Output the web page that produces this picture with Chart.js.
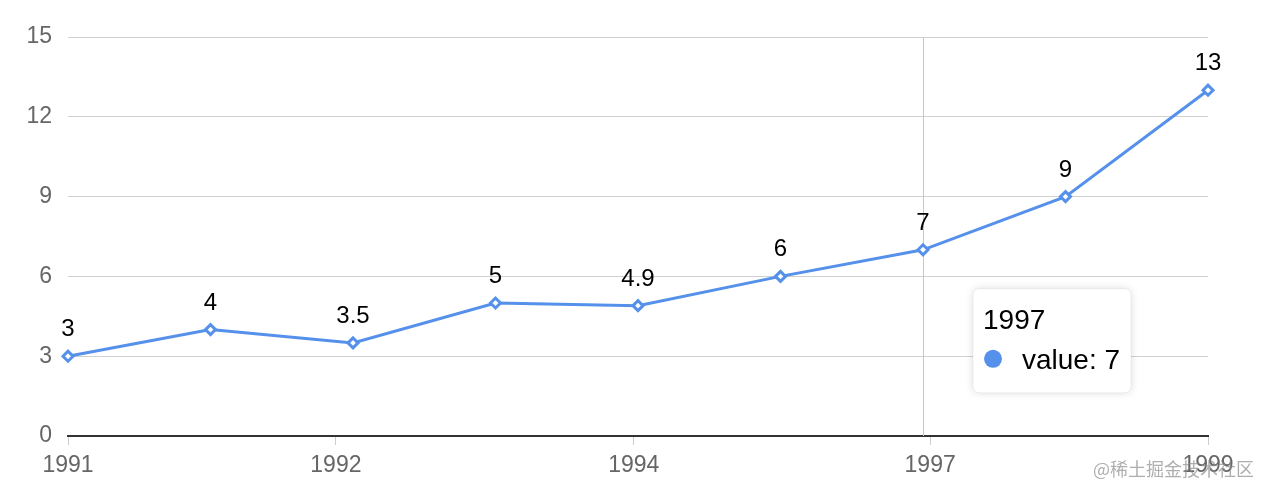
<!DOCTYPE html>
<html>
<head>
<meta charset="utf-8">
<script src="https://cdn.jsdelivr.net/npm/chart.js@4/dist/chart.umd.min.js"></script>
<style>
  html, body { margin: 0; padding: 0; background: #fff; }
  #wrap { position: relative; width: 1270px; height: 496px; }
  #mark {
    position: absolute; left: 1093px; top: 458px;
    font: 18px/20px "Noto Sans CJK SC", sans-serif;
    color: rgba(140, 140, 140, 0.7);
    white-space: nowrap;
  }
</style>
</head>
<body>
<div id="wrap">
  <canvas id="chart" width="1270" height="496"></canvas>
  <div id="mark">@稀土掘金技术社区</div>
</div>
<script>
// data
const years = ['1991', '1992', '1993', '1994', '1995', '1996', '1997', '1998', '1999'];
const values = [3, 4, 3.5, 5, 4.9, 6, 7, 9, 13];

// x axis labels sit at odd spots in the original, kept in axis units
const xTickLabels = ['1991', '1992', '1994', '1997', '1999'];
const xTickValues = [0, 1.88, 3.97, 6.05, 8];

const yMax = 15;
const yStep = 3;

// hovered point shown in the tooltip
const activeIndex = 6;

const lineColor = '#5590EA';
const font = '"Liberation Sans", Arial, sans-serif';

const crosshair = {
    id: 'crosshair',
    beforeDatasetsDraw(chart) {
        const p = chart.getDatasetMeta(0).data[activeIndex];
        const { top, bottom } = chart.chartArea;
        const ctx = chart.ctx;
        ctx.save();
        ctx.strokeStyle = '#c8c8c8';
        ctx.lineWidth = 1;
        ctx.beginPath();
        ctx.moveTo(Math.round(p.x) + 0.5, top);
        ctx.lineTo(Math.round(p.x) + 0.5, bottom);
        ctx.stroke();
        ctx.restore();
    }
};

const pointLabels = {
    id: 'pointLabels',
    afterDatasetsDraw(chart) {
        const ctx = chart.ctx;
        ctx.save();
        ctx.font = '24px ' + font;
        ctx.fillStyle = '#000';
        ctx.textAlign = 'center';
        ctx.textBaseline = 'alphabetic';
        chart.getDatasetMeta(0).data.forEach((p, i) => {
            ctx.fillText(String(values[i]), p.x, p.y - 20);
        });
        ctx.restore();
    }
};

const staticTooltip = {
    id: 'staticTooltip',
    afterDraw(chart) {
        const p = chart.getDatasetMeta(0).data[activeIndex];
        const ctx = chart.ctx;
        const x = p.x + 50, y = p.y + 39, w = 158, h = 104;
        ctx.save();
        ctx.shadowColor = 'rgba(0, 0, 0, 0.14)';
        ctx.shadowBlur = 8;
        ctx.fillStyle = '#fff';
        ctx.beginPath();
        ctx.roundRect(x, y, w, h, 6);
        ctx.fill();
        ctx.shadowColor = 'transparent';
        ctx.strokeStyle = 'rgba(0,0,0,0.05)';
        ctx.lineWidth = 1;
        ctx.stroke();

        ctx.fillStyle = '#000';
        ctx.font = '28px ' + font;
        ctx.textAlign = 'left';
        ctx.textBaseline = 'alphabetic';
        ctx.fillText(years[activeIndex], x + 10, y + 40);

        ctx.fillStyle = lineColor;
        ctx.beginPath();
        ctx.arc(x + 20, y + 70, 9, 0, Math.PI * 2);
        ctx.fill();

        ctx.fillStyle = '#000';
        ctx.fillText('value: ' + values[activeIndex], x + 49, y + 80);
        ctx.restore();
    }
};

new Chart(document.getElementById('chart'), {
    type: 'line',
    data: {
        datasets: [{
            data: values.map((v, i) => ({ x: i, y: v })),
            borderColor: lineColor,
            borderWidth: 3,
            backgroundColor: '#fff',
            pointStyle: 'rectRot',
            pointRadius: 5,
            pointBorderWidth: 3,
            pointBorderColor: lineColor,
            pointBackgroundColor: '#fff',
            tension: 0,
            fill: false,
            clip: false
        }]
    },
    options: {
        responsive: false,
        animation: false,
        layout: { padding: { top: 37, right: 62, left: 0, bottom: 0 } },
        plugins: {
            legend: { display: false },
            tooltip: { enabled: false }
        },
        scales: {
            x: {
                type: 'linear',
                min: 0,
                max: years.length - 1,
                afterBuildTicks: axis => {
                    axis.ticks = xTickValues.map(v => ({ value: v }));
                },
                afterFit: axis => { axis.height = 60; },
                grid: {
                    drawOnChartArea: false,
                    drawTicks: true,
                    tickLength: 9,
                    color: '#cccccc',
                    lineWidth: 1
                },
                border: { display: true, color: '#333333', width: 2 },
                ticks: {
                    autoSkip: false,
                    maxRotation: 0,
                    padding: 7,
                    color: '#666666',
                    font: { family: font, size: 23 },
                    callback: (v, i) => xTickLabels[i]
                }
            },
            y: {
                min: 0,
                max: yMax,
                afterFit: axis => { axis.width = 68; },
                grid: { color: '#d0d0d0', lineWidth: 1, drawTicks: false },
                border: { display: false },
                ticks: {
                    stepSize: yStep,
                    padding: 16,
                    color: '#666666',
                    font: { family: font, size: 23 }
                }
            }
        }
    },
    plugins: [crosshair, pointLabels, staticTooltip]
});
</script>
</body>
</html>
